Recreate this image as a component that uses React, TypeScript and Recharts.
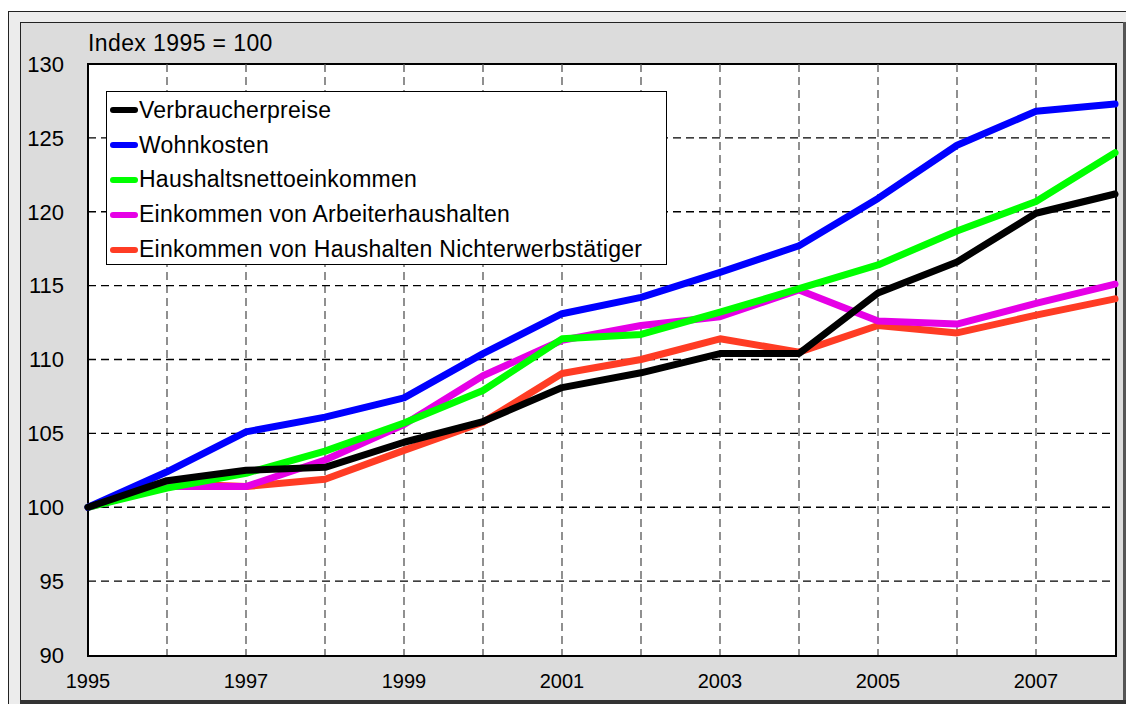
import { LineChart, Line, XAxis, YAxis, CartesianGrid } from 'recharts';

const years = [1995, 1996, 1997, 1998, 1999, 2000, 2001, 2002, 2003, 2004, 2005, 2006, 2007, 2008];
const verbraucherpreise = [100, 101.8, 102.5, 102.7, 104.4, 105.8, 108.1, 109.1, 110.4, 110.4, 114.5, 116.6, 119.9, 121.2];
const wohnkosten = [100, 102.4, 105.1, 106.1, 107.4, 110.4, 113.1, 114.2, 115.9, 117.7, 120.9, 124.5, 126.8, 127.3];
const haushaltsnetto = [100, 101.3, 102.3, 103.8, 105.7, 107.9, 111.4, 111.7, 113.2, 114.8, 116.4, 118.7, 120.7, 124.0];
const arbeiter = [100, 101.4, 101.4, 103.2, 105.6, 108.9, 111.3, 112.3, 112.9, 114.7, 112.6, 112.4, 113.8, 115.1];
const nichterwerb = [100, 101.6, 101.4, 101.9, 103.85, 105.75, 109.05, 110.0, 111.4, 110.5, 112.3, 111.8, 113.0, 114.1];

const yTicks = [90, 95, 100, 105, 110, 115, 120, 125, 130];
const xTicks = [1995, 1996, 1997, 1998, 1999, 2000, 2001, 2002, 2003, 2004, 2005, 2006, 2007];
const hGrid = [95, 100, 105, 110, 115, 120, 125];
const vGrid = [1996, 1997, 1998, 1999, 2000, 2001, 2002, 2003, 2004, 2005, 2006, 2007];

// legend order, top to bottom
const series = [
  { key: 'vp', name: 'Verbraucherpreise', color: '#000000' },
  { key: 'wk', name: 'Wohnkosten', color: '#0000ff' },
  { key: 'hn', name: 'Haushaltsnettoeinkommen', color: '#00ff00' },
  { key: 'ah', name: 'Einkommen von Arbeiterhaushalten', color: '#e600e6' },
  { key: 'ne', name: 'Einkommen von Haushalten Nichterwerbstätiger', color: '#ff3c24' },
];
// drawing order, bottom to top
const drawOrder = ['ne', 'ah', 'hn', 'wk', 'vp'];

const FONT = '"Liberation Sans", Arial, sans-serif';

export default function App() {
  const data = years.map((year, i) => ({
    year,
    vp: verbraucherpreise[i],
    wk: wohnkosten[i],
    hn: haushaltsnetto[i],
    ah: arbeiter[i],
    ne: nichterwerb[i],
  }));

  return (
    <div style={{ position: 'relative', width: 1126, height: 704, background: '#fff', fontFamily: FONT, overflow: 'hidden' }}>
      <style>{'body{margin:0}'}</style>
      {/* bevelled frame */}
      <div style={{ position: 'absolute', left: 8, top: 11, width: 1118, height: 693, background: '#ececec', borderTop: '1px solid #222', borderLeft: '1px solid #222', boxSizing: 'border-box' }} />
      <div style={{ position: 'absolute', left: 20, top: 22, width: 1103, height: 678, background: '#dcdcdc', borderTop: '1px solid #222', borderLeft: '1px solid #222', boxSizing: 'border-box' }} />
      <div style={{ position: 'absolute', left: 1123, top: 22, width: 3, height: 682, background: '#555' }} />
      <div style={{ position: 'absolute', left: 20, top: 700, width: 1106, height: 4, background: '#333' }} />
      {/* plot area */}
      <div style={{ position: 'absolute', left: 87, top: 63, width: 1030, height: 594, background: '#fff', border: '2px solid #000', boxSizing: 'border-box' }} />
      <div style={{ position: 'absolute', left: 88, top: 30, fontSize: 23, letterSpacing: 0.4, color: '#000' }}>Index 1995 = 100</div>

      <div style={{ position: 'absolute', left: 0, top: 0 }}>
        <LineChart width={1126} height={704} data={data} margin={{ top: 64, right: 11, bottom: 0, left: 0 }}>
          <CartesianGrid horizontal={false} verticalValues={vGrid} stroke="#555" strokeDasharray="8 5" strokeWidth={1.3} />
          <CartesianGrid vertical={false} horizontalValues={hGrid} stroke="#000" strokeDasharray="8 5" strokeWidth={1.3} />
          <XAxis
            dataKey="year"
            type="number"
            domain={[1995, 2008]}
            ticks={xTicks}
            interval={0}
            height={49}
            tickLine={false}
            axisLine={false}
            tickSize={0}
            tickMargin={19}
            tickFormatter={(v) => (v % 2 === 1 ? String(v) : '')}
            tick={{ fill: '#000', fontSize: 20, fontFamily: FONT }}
          />
          <YAxis
            type="number"
            domain={[90, 130]}
            ticks={yTicks}
            interval={0}
            width={88}
            tickLine={false}
            axisLine={false}
            tickSize={0}
            tickMargin={24}
            tick={{ fill: '#000', fontSize: 22, fontFamily: FONT }}
          />
          {drawOrder.map((k) => {
            const s = series.find((x) => x.key === k)!;
            return (
              <Line
                key={k}
                type="linear"
                dataKey={k}
                name={s.name}
                stroke={s.color}
                strokeWidth={7}
                strokeLinecap="round"
                strokeLinejoin="round"
                dot={false}
                activeDot={false}
                isAnimationActive={false}
              />
            );
          })}
        </LineChart>
      </div>

      {/* legend */}
      <div style={{ position: 'absolute', left: 106, top: 91, width: 561, height: 174, background: '#fff', border: '1.5px solid #000', boxSizing: 'border-box', paddingTop: 1 }}>
        {series.map((s) => (
          <div key={s.key} style={{ display: 'flex', alignItems: 'center', height: 34.8, whiteSpace: 'nowrap' }}>
            <div style={{ marginLeft: 3, width: 28, height: 6, borderRadius: 3, background: s.color }} />
            <span style={{ marginLeft: 1, fontSize: 23, letterSpacing: 0.25, color: '#000' }}>{s.name}</span>
          </div>
        ))}
      </div>
    </div>
  );
}
